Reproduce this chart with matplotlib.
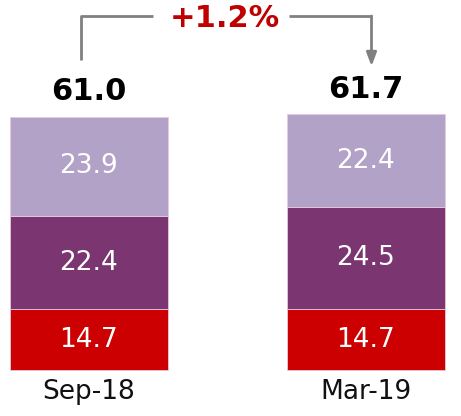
import matplotlib.pyplot as plt

categories = ["Sep-18", "Mar-19"]
bottom_vals = [14.7, 14.7]
middle_vals = [22.4, 24.5]
top_vals = [23.9, 22.4]
totals = ["61.0", "61.7"]
change_label = "+1.2%"

colors = ["#CC0000", "#7B3671", "#B3A2C8"]

fig = plt.figure(figsize=(4.61, 4.16), dpi=100)
ax = fig.add_axes([0, 0, 1, 1])

x = [0, 1]
w = 0.57
bottom = [0, 0]
for vals, c in zip([bottom_vals, middle_vals, top_vals], colors):
    ax.bar(x, vals, w, bottom=bottom, color=c, edgecolor="#E8C8E0", linewidth=0.6)
    for xi, b, v in zip(x, bottom, vals):
        ax.text(xi, b + v / 2, f"{v:.1f}", ha="center", va="center",
                color="white", fontsize=19)
    bottom = [b + v for b, v in zip(bottom, vals)]

for xi, t, tot in zip(x, bottom, totals):
    ax.text(xi, t + 2.6, tot, ha="center", va="bottom", fontsize=22,
            fontweight="bold", color="black")

for xi, cat in zip(x, categories):
    ax.text(xi, -2.2, cat, ha="center", va="top", fontsize=19, color="#111111")

# change arrow
gray = "#808080"
ax.plot([-0.03, -0.03, 0.23], [74.8, 85.3, 85.3], color=gray, lw=2,
        solid_capstyle="butt")
ax.annotate("", xy=(1.02, 73.2), xytext=(1.02, 85.3),
            arrowprops=dict(arrowstyle="-|>,head_width=0.3,head_length=0.8",
                            color=gray, lw=2, shrinkA=0, shrinkB=0))
ax.plot([0.723, 1.02], [85.3, 85.3], color=gray, lw=2, solid_capstyle="butt")
ax.text(0.49, 84.6, change_label, ha="center", va="center", fontsize=22,
        fontweight="bold", color="#C00000")

ax.set_xlim(-0.321, 1.343)
ax.set_ylim(-11.08, 89.16)
ax.axis("off")

fig.savefig("out.png", dpi=100)
